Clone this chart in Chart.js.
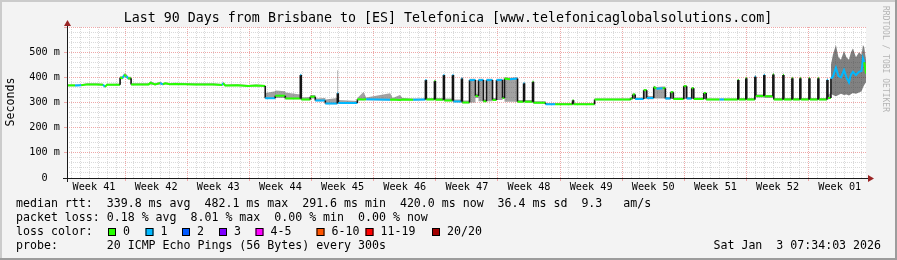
<!DOCTYPE html>
<html>
<head>
<meta charset="utf-8">
<script src="https://cdn.jsdelivr.net/npm/chart.js@4/dist/chart.umd.min.js"></script>
<style>
  html, body { margin: 0; padding: 0; background: #f3f3f3; }
  canvas { display: block; }
</style>
</head>
<body>
<canvas id="graph" width="897" height="260"></canvas>
<script>
// time axis is in days from the left edge of the 90 day window
const weekLabels = ['Week 41', 'Week 42', 'Week 43', 'Week 44', 'Week 45', 'Week 46', 'Week 47',
                    'Week 48', 'Week 49', 'Week 50', 'Week 51', 'Week 52', 'Week 01'];
const weekStarts = [-0.46, 6.54, 13.54, 20.54, 27.54, 34.54, 41.54, 48.54, 55.54, 62.54, 69.54, 76.54, 83.54];
const yLabels = ['0  ', '100 m', '200 m', '300 m', '400 m', '500 m'];

// median rtt (ms), loss count and smoke range (ms) per sample
const days = [
  0.00, 0.90, 1.60, 2.26, 3.30, 4.06, 4.29, 4.50,
  5.98, 5.98, 6.30, 6.43, 6.70, 6.88, 7.22,
  7.22, 9.20, 9.40, 9.92, 10.49, 10.80, 11.05, 11.60, 12.18,
  14.44, 16.50, 17.48, 17.60, 17.82, 19.20, 20.40, 21.30, 22.33,
  22.33, 23.46, 23.46, 24.59, 24.59, 26.28, 26.28, 26.39,
  26.39, 27.41, 27.41, 27.97, 27.97, 29.10,
  29.10, 30.45, 30.45, 30.56, 30.56, 32.71, 32.71, 33.40, 33.70, 36.40,
  36.70, 37.50, 37.80, 39.00, 40.37, 40.37, 40.48, 40.48, 41.39, 41.39, 41.50, 41.50,
  42.40, 42.40, 42.51, 42.51, 43.42, 43.42, 43.53, 43.53, 44.43, 44.43, 44.54, 44.54,
  45.34, 45.34, 46.01, 46.01, 46.35, 46.35, 46.91, 46.91, 47.25, 47.25, 47.93, 47.93, 48.38, 48.38, 49.06, 49.06, 49.28, 49.28, 49.90, 50.75,
  50.75, 51.43, 51.43, 51.54, 51.54, 52.44, 52.44, 52.55, 52.55, 53.91, 53.91, 55.00, 56.95, 56.95, 57.06, 57.06,
  59.43, 59.43, 63.49,
  63.49, 63.72, 63.72, 64.00, 64.00, 64.96, 64.96, 65.30, 65.30, 66.09, 66.09, 66.40, 67.10, 67.40, 67.40, 68.00, 68.00, 68.30, 68.30, 69.47, 69.47, 69.80, 69.80,
  70.37, 70.37, 70.60, 70.60, 71.73, 71.73, 72.00, 72.00, 73.50, 74.00, 75.56, 75.56, 75.67, 75.67, 76.46, 76.46, 76.57, 76.57,
  77.48, 77.48, 77.59, 77.59, 78.49, 78.49, 78.60, 78.60, 79.51, 79.51, 79.62, 79.62, 80.64, 80.64, 80.75, 80.75, 81.65, 81.65, 81.76, 81.76, 82.55, 82.55, 82.66, 82.66,
  83.57, 83.57, 83.68, 83.68, 84.58, 84.58, 84.69, 84.69, 85.60, 85.60, 85.71, 85.71, 86.05,
  86.05, 86.27, 86.61, 86.90, 87.18, 87.52, 87.80, 88.08, 88.30, 88.53, 88.87, 89.21, 89.50, 89.66, 89.80, 90.00
];
const median = [
  368, 368, 369, 372, 372, 371, 362, 371,
  371, 398, 398, 410, 405, 396, 396,
  372, 372, 378, 372, 377, 372, 376, 373, 374,
  372, 372, 370, 377, 368, 369, 366, 368, 366,
  317, 317, 327, 327, 316, 316, 409, 409,
  312, 312, 323, 323, 308, 308,
  296, 296, 337, 337, 298, 298, 313, 312, 313, 311,
  312, 310, 312, 311, 312, 389, 389, 312, 312, 385, 385, 311,
  311, 409, 409, 308, 308, 409, 409, 304, 304, 395, 395, 300,
  300, 389, 389, 326, 326, 389, 389, 305, 305, 389, 389, 310, 310, 389, 389, 318, 318, 395, 392, 395,
  303, 303, 376, 376, 303, 303, 382, 382, 299, 299, 293, 293, 293, 309, 309, 293,
  293, 312, 312,
  316, 316, 332, 332, 314, 314, 349, 349, 318, 318, 362, 355, 357, 357, 316, 316, 341, 341, 314, 314, 365, 365, 316,
  316, 357, 357, 314, 314, 338, 338, 312, 312, 312, 312, 389, 389, 312, 312, 396, 396, 312,
  312, 402, 402, 326, 326, 409, 409, 325, 325, 411, 411, 312, 312, 409, 409, 312, 312, 396, 396, 312, 312, 396, 396, 312,
  312, 396, 396, 312, 312, 396, 396, 312, 312, 389, 389, 318, 318,
  395, 402, 438, 405, 400, 429, 400, 380, 410, 422, 409, 422, 425, 475, 460, 415
];
const loss = [
  0, 1, 0, 0, 0, 1, 0, 0,
  0, 0, 1, 0, 1, 0, 0,
  0, 0, 0, 0, 1, 0, 0, 0, 0,
  0, 0, 1, 0, 0, 0, 0, 0, 0,
  1, 0, 0, 0, 0, 0, 1, 0,
  0, 0, 0, 0, 1, 0,
  1, 0, 1, 0, 1, 0, 0, 0, 1, 0,
  0, 0, 0, 1, 0, 1, 0, 0, 0, 0, 0, 0,
  0, 1, 0, 0, 0, 1, 0, 1, 0, 1, 0, 0,
  0, 1, 0, 0, 0, 1, 0, 0, 0, 1, 0, 0, 0, 1, 0, 0, 0, 0, 1, 0,
  0, 0, 1, 0, 0, 0, 0, 0, 0, 0, 1, 0, 1, 0, 0, 0,
  0, 0, 0,
  0, 0, 0, 0, 1, 0, 0, 0, 1, 0, 0, 1, 0, 0, 1, 0, 0, 0, 0, 0, 0, 0, 1,
  0, 0, 0, 0, 0, 0, 0, 0, 1, 0, 0, 0, 0, 0, 0, 0, 0, 0,
  0, 1, 0, 0, 0, 1, 0, 0, 0, 0, 0, 0, 0, 0, 0, 0, 0, 0, 0, 0, 0, 0, 0, 0,
  0, 0, 0, 0, 0, 0, 0, 0, 0, 1, 0, 0, 0,
  1, 1, 1, 1, 1, 1, 1, 1, 1, 1, 1, 1, 1, 1, 0, 0
];
const smokeLo = [
  365, 365, 366, 369, 369, 368, 359, 368,
  368, 392, 392, 400, 398, 390, 390,
  369, 369, 372, 369, 372, 369, 372, 370, 371,
  369, 369, 367, 370, 365, 366, 363, 365, 363,
  314, 314, 318, 318, 313, 313, 316, 316,
  309, 309, 316, 316, 305, 305,
  293, 293, 296, 296, 295, 295, 310, 309, 309, 308,
  309, 307, 309, 308, 309, 312, 312, 309, 309, 312, 312, 308,
  308, 311, 311, 305, 305, 308, 308, 301, 301, 304, 304, 297,
  297, 300, 300, 318, 318, 305, 305, 302, 302, 305, 305, 307, 307, 310, 310, 314, 314, 303, 303, 303,
  300, 300, 303, 303, 300, 300, 303, 303, 296, 296, 290, 290, 290, 293, 293, 290,
  290, 309, 309,
  312, 312, 314, 314, 311, 311, 314, 314, 313, 313, 316, 316, 316, 316, 312, 312, 314, 314, 311, 311, 314, 314, 312,
  312, 314, 314, 311, 311, 313, 313, 309, 309, 309, 309, 310, 310, 309, 309, 310, 310, 309,
  309, 312, 312, 320, 320, 320, 320, 318, 318, 318, 318, 309, 309, 310, 310, 309, 309, 310, 310, 309, 309, 310, 310, 309,
  309, 310, 310, 309, 309, 310, 310, 309, 309, 310, 310, 312, 315,
  335, 330, 325, 330, 335, 330, 332, 328, 333, 338, 335, 340, 345, 360, 370, 380
];
const smokeHi = [
  372, 372, 373, 376, 376, 375, 366, 375,
  375, 404, 404, 416, 412, 402, 402,
  376, 376, 384, 376, 382, 376, 380, 377, 378,
  376, 376, 374, 382, 372, 373, 370, 372, 370,
  338, 345, 348, 345, 340, 332, 414, 414,
  320, 322, 330, 330, 316, 318,
  312, 318, 428, 428, 310, 306, 318, 342, 320, 337,
  318, 330, 318, 316, 316, 392, 392, 318, 318, 390, 390, 318,
  318, 412, 412, 316, 316, 412, 412, 312, 312, 398, 398, 308,
  308, 394, 394, 335, 335, 394, 394, 312, 312, 394, 394, 318, 318, 394, 394, 326, 326, 400, 398, 400,
  310, 310, 380, 380, 310, 310, 386, 386, 305, 305, 298, 298, 298, 312, 312, 298,
  298, 316, 316,
  322, 322, 336, 336, 320, 320, 354, 354, 326, 326, 368, 362, 364, 364, 322, 322, 346, 346, 320, 320, 370, 370, 322,
  322, 362, 362, 320, 320, 342, 342, 316, 316, 316, 316, 394, 394, 318, 318, 402, 402, 318,
  318, 408, 408, 332, 332, 414, 414, 330, 330, 416, 416, 318, 318, 414, 414, 318, 318, 402, 402, 318, 318, 402, 402, 318,
  318, 402, 402, 318, 318, 402, 402, 318, 318, 396, 396, 330, 340,
  450, 490, 528, 480, 470, 505, 480, 470, 500, 515, 480, 500, 490, 528, 520, 470
];

const lossColors = ['#26ff00', '#00b8ff', '#0059ff', '#7e00ff', '#ff00ff', '#ff5500', '#ff0000', '#a10000'];
const lossNames = ['0', '1', '2', '3', '4-5', '6-10', '11-19', '20/20'];

const titleText = 'Last 90 Days from Brisbane to [ES] Telefonica [www.telefonicaglobalsolutions.com]';
const yTitle = 'Seconds';
const statLines = [
  'median rtt:  339.8 ms avg  482.1 ms max  291.6 ms min  420.0 ms now  36.4 ms sd  9.3   am/s',
  'packet loss: 0.18 % avg  8.01 % max  0.00 % min  0.00 % now'
];
const lossTitle = 'loss color:';
const probeLine = 'probe:       20 ICMP Echo Pings (56 Bytes) every 300s';
const dateText = 'Sat Jan  3 07:34:03 2026';
const sideText = 'RRDTOOL / TOBI OETIKER';

const mono = '"DejaVu Sans Mono", monospace';
const majorGrid = '#eea8a8';
const minorGrid = '#dadada';
const arrowRed = '#9a2424';

// x ticks: one per day boundary plus one at each week centre for its label
function xTicks() {
    const t = [];
    weekStarts.forEach((w, i) => {
        for (let d = 0; d < 7; d++) {
            const v = w + d;
            if (v >= 0 && v <= 90) t.push({value: v, kind: d === 0 ? 'week' : 'day'});
        }
        t.push({value: w + 3.5, kind: 'label', text: weekLabels[i]});
    });
    return t.sort((a, b) => a.value - b.value);
}

function isStep(s) {
    return days[s.p0DataIndex] === days[s.p1DataIndex];
}

// wide smoke (lots of jitter) is drawn darker, like the stacked smoke layers
function smokeColour(s) {
    const spread = smokeHi[s.p0DataIndex] - smokeLo[s.p0DataIndex];
    return spread > 100 ? 'rgba(45,45,45,0.6)' : 'rgba(70,70,70,0.5)';
}

const decor = {
    id: 'decor',
    beforeDraw(chart) {
        const c = chart.ctx, a = chart.chartArea, W = chart.width, H = chart.height;
        c.save();
        c.fillStyle = '#f3f3f3';
        c.fillRect(0, 0, W, H);
        c.fillStyle = '#cbcbcb';
        c.fillRect(0, 0, W, 2);
        c.fillRect(0, 0, 2, H);
        c.fillStyle = '#9c9c9c';
        c.fillRect(0, H - 2, W, 2);
        c.fillRect(W - 2, 0, 2, H);
        c.fillStyle = '#ffffff';
        c.fillRect(a.left, a.top, a.right - a.left, a.bottom - a.top);
        c.restore();
    },
    afterDraw(chart) {
        const c = chart.ctx, a = chart.chartArea;
        c.save();
        // axes with arrows
        c.fillStyle = '#1a1a1a';
        c.fillRect(a.left - 4, a.bottom, a.right - a.left + 6, 1);
        c.fillRect(a.left, a.top - 3, 1, a.bottom - a.top + 7);
        c.fillStyle = arrowRed;
        c.beginPath();
        c.moveTo(a.right + 2, a.bottom - 3);
        c.lineTo(a.right + 8, a.bottom + 0.5);
        c.lineTo(a.right + 2, a.bottom + 4);
        c.closePath();
        c.fill();
        c.beginPath();
        c.moveTo(a.left - 3, a.top - 1);
        c.lineTo(a.left + 0.5, a.top - 7);
        c.lineTo(a.left + 4, a.top - 1);
        c.closePath();
        c.fill();

        c.fillStyle = '#000';
        c.textBaseline = 'middle';
        c.textAlign = 'center';
        c.font = '13.3px ' + mono;
        c.fillText(titleText, 448, 19);

        c.save();
        c.translate(11, 102);
        c.rotate(-Math.PI / 2);
        c.font = '11.6px ' + mono;
        c.fillText(yTitle, 0, 0);
        c.restore();

        c.textAlign = 'left';
        c.font = '11.6px ' + mono;
        c.fillText(statLines[0], 16, 204);
        c.fillText(statLines[1], 16, 218);
        c.fillText(lossTitle, 16, 232);
        c.fillText(probeLine, 16, 246);

        const boxX = [108, 145.5, 182, 219, 255.5, 316.5, 365.5, 432];
        lossNames.forEach((n, i) => {
            c.fillStyle = lossColors[i];
            c.fillRect(boxX[i], 228, 8, 8);
            c.strokeStyle = '#000';
            c.lineWidth = 1;
            c.strokeRect(boxX[i] + 0.5, 228.5, 7, 7);
            c.fillStyle = '#000';
            c.fillText(n, boxX[i] + 15, 232);
        });

        c.textAlign = 'right';
        c.fillText(dateText, 881, 246);

        c.save();
        c.translate(885, 6);
        c.rotate(Math.PI / 2);
        c.textAlign = 'left';
        c.font = '8px ' + mono;
        c.fillStyle = '#b4b4b4';
        c.fillText(sideText, 0, 0);
        c.restore();
        c.restore();
    }
};

const ctx = document.getElementById('graph').getContext('2d');
new Chart(ctx, {
    type: 'line',
    data: {
        datasets: [
            {
                label: 'median',
                data: days.map((d, i) => ({x: d, y: median[i]})),
                borderWidth: 2,
                pointRadius: 0,
                tension: 0,
                fill: false,
                segment: {
                    borderColor: s => isStep(s) ? '#151515' : lossColors[loss[s.p0DataIndex]],
                    borderWidth: s => isStep(s) ? 1.6 : 2
                }
            },
            {
                label: 'smoke min',
                data: days.map((d, i) => ({x: d, y: smokeLo[i]})),
                borderWidth: 0,
                pointRadius: 0,
                tension: 0,
                fill: false
            },
            {
                label: 'smoke max',
                data: days.map((d, i) => ({x: d, y: smokeHi[i]})),
                borderWidth: 0,
                pointRadius: 0,
                tension: 0,
                fill: 1,
                backgroundColor: 'rgba(70,70,70,0.5)',
                segment: {backgroundColor: smokeColour}
            }
        ]
    },
    options: {
        responsive: false,
        animation: false,
        devicePixelRatio: 1,
        layout: {padding: {top: 27, right: 31, left: 0, bottom: 0}},
        plugins: {legend: {display: false}, tooltip: {enabled: false}, title: {display: false}},
        scales: {
            x: {
                type: 'linear',
                min: 0,
                max: 90,
                afterFit: s => { s.height = 82; },
                afterBuildTicks: s => { s.ticks = xTicks(); },
                ticks: {
                    autoSkip: false,
                    maxRotation: 0,
                    padding: 0,
                    color: '#000',
                    font: {family: mono, size: 10.2},
                    callback: (v, i, ticks) => ticks[i].kind === 'label' ? ticks[i].text : ''
                },
                grid: {
                    lineWidth: 1,
                    tickLength: 3,
                    color: c => c.tick.kind === 'week' ? majorGrid : (c.tick.kind === 'day' ? minorGrid : 'rgba(0,0,0,0)'),
                    tickColor: c => c.tick.kind === 'week' ? majorGrid : 'rgba(0,0,0,0)'
                },
                border: {display: false, dash: [1, 1]}
            },
            y: {
                min: 0,
                max: 600,
                afterFit: s => { s.width = 67; },
                afterBuildTicks: s => {
                    const t = [];
                    for (let v = 0; v <= 600; v += 20) t.push({value: v});
                    s.ticks = t;
                },
                ticks: {
                    autoSkip: false,
                    padding: 4,
                    color: '#000',
                    font: {family: mono, size: 10.2},
                    callback: v => (v % 100 === 0 && v < 600) ? yLabels[v / 100] : ''
                },
                grid: {
                    lineWidth: 1,
                    tickLength: 3,
                    color: c => c.tick.value % 100 === 0 ? majorGrid : minorGrid,
                    tickColor: c => c.tick.value % 100 === 0 ? majorGrid : 'rgba(0,0,0,0)'
                },
                border: {display: false, dash: [1, 1]}
            }
        }
    },
    plugins: [decor]
});
</script>
</body>
</html>
